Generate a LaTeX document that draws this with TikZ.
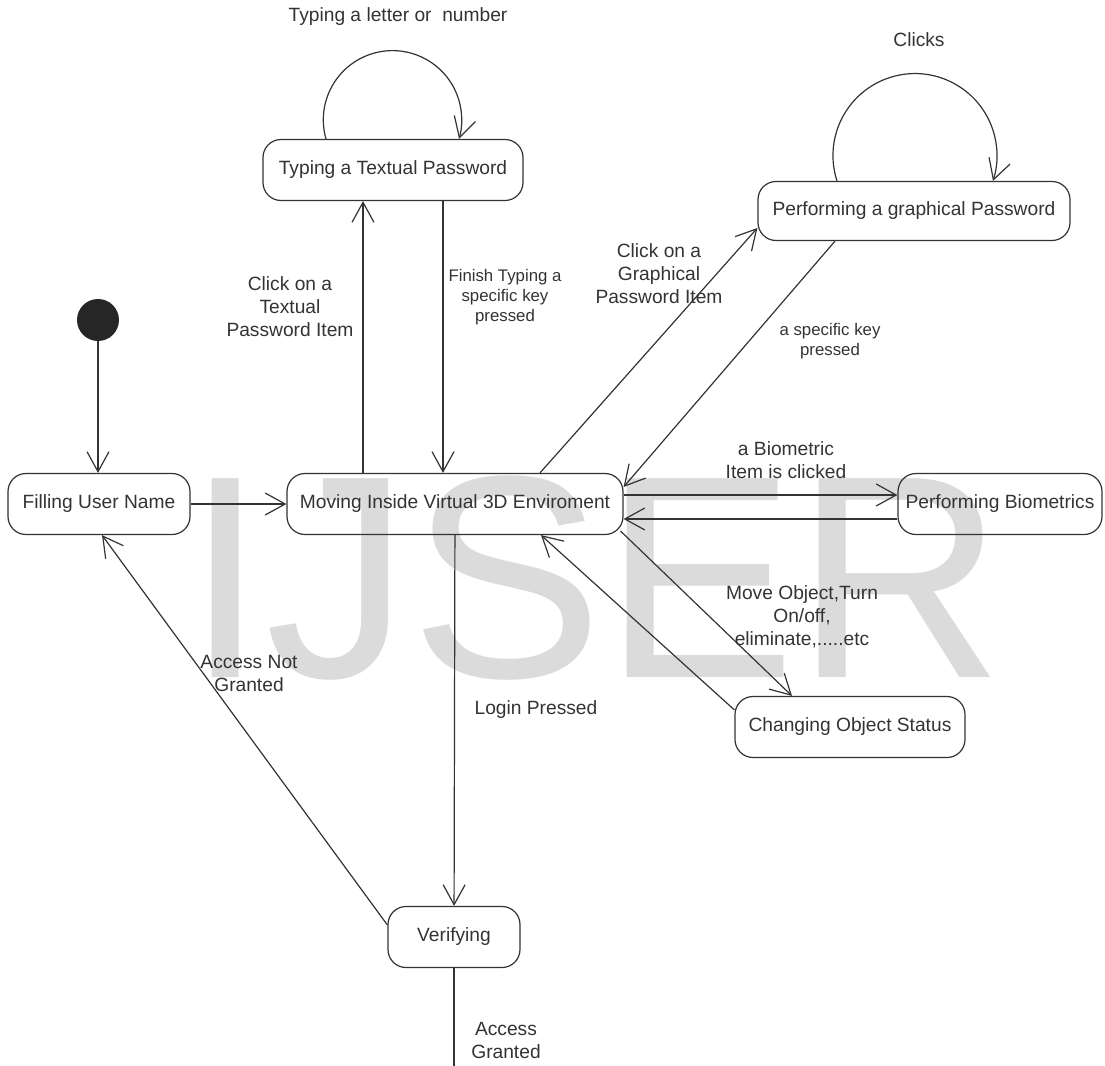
\documentclass[tikz,border=0pt]{standalone}
\usepackage{fontspec}
\setmainfont{Liberation Sans}
\usetikzlibrary{arrows.meta}
\newcommand{\mainsize}{\fontsize{9.6pt}{11.5pt}\selectfont}
\newcommand{\labsize}{\fontsize{8.4pt}{10pt}\selectfont}

\begin{document}
\begin{tikzpicture}[x=0.5pt, y=-0.5pt,
    state/.style={rectangle, rounded corners=9pt, draw=black!80, line width=0.6pt, minimum height=30.5pt, inner sep=2pt, text=black!80, font=\mainsize},
    trans/.style={-{Straight Barb[length=10pt,width=11pt]}, draw=black!80, line width=0.6pt},
    lbl/.style={align=center, text=black!80, font=\mainsize, inner sep=0pt},
    slbl/.style={lbl, font=\labsize}
]
\useasboundingbox (0,0) rectangle (1105,1066);
% watermark
\node[anchor=base west, inner sep=0pt, text=black!14, font=\fontsize{144.5pt}{150pt}\selectfont] (wm) at (185,677) {IJSER};

\node[circle, fill=black!85, minimum size=21pt, inner sep=0pt] (init) at (98,320) {};
\node[state, minimum width=91pt] (fil) at (99,504) {Filling User Name};
\node[state, minimum width=168pt] (mov) at (455,504) {Moving Inside Virtual 3D Enviroment};
\node[state, minimum width=130pt] (ttp) at (393,170) {Typing a Textual Password};
\node[state, minimum width=156pt, minimum height=29.5pt] (gpw) at (914,211) {Performing a graphical Password};
\node[state, minimum width=102pt] (bio) at (1000,504) {Performing Biometrics};
\node[state, minimum width=115pt] (cos) at (850,727) {Changing Object Status};
\node[state, minimum width=66pt] (ver) at (454,937) {Verifying};
\coordinate (out) at (454,1066);

\draw[trans] (init) -- (init |- fil.north);
\draw[trans] (fil) -- (mov);
\draw[trans] ([xshift=-15pt]ttp.south |- mov.north) -- ([xshift=-15pt]ttp.south);
\draw[trans] ([xshift=25pt]ttp.south) -- ([xshift=25pt]ttp.south |- mov.north);
\draw[trans] ([xshift=42.5pt]mov.north) -- ([yshift=-8.5pt]gpw.west);
\draw[trans] ([xshift=-39.5pt]gpw.south) -- ([yshift=8.5pt]mov.east);
\draw[trans] ([yshift=4.5pt]mov.east) -- ([yshift=4.5pt]mov.east -| bio.west);
\draw[trans] ([yshift=-7.5pt]mov.east -| bio.west) -- ([yshift=-7.5pt]mov.east);
\draw[trans] ([shift={(-1.5pt,2pt)}]mov.south east) -- ([xshift=-29pt]cos.north);
\draw[trans] ([yshift=-7pt]cos.north west) -- ([xshift=43pt]mov.south);
\draw[trans] (mov) -- (ver);
\draw[trans] ([yshift=6pt]ver.west) -- ([xshift=1.5pt]fil.south);
\draw[draw=black!80, line width=0.6pt] (ver) -- (out);

% self loops
\draw[trans] ([xshift=-33.5pt]ttp.north) arc[start angle=196, end angle=-16, radius=34.6pt];
\draw[trans] ([xshift=-38.5pt]gpw.north) arc[start angle=198, end angle=-18, radius=41pt];

\node[lbl] (l1) at (398,17) {Typing a letter or~ number};
\node[lbl] (l2) at (919,40) {Clicks};
\node[lbl] (l3) at (290,307) {Click on a\\Textual\\Password Item};
\node[slbl] (l4) at (505,297) {Finish Typing a\\specific key\\pressed};
\node[lbl] (l5) at (659,274) {Click on a\\Graphical\\Password Item};
\node[slbl] (l6) at (830,341) {a specific key\\pressed};
\node[lbl] (l7) at (786,460) {a Biometric\\Item is clicked};
\node[lbl] (l8) at (802,617) {Move Object,Turn\\On/off,\\eliminate,.....etc};
\node[lbl] (l9) at (536,710) {Login Pressed};
\node[lbl] (l10) at (249,673) {Access Not\\Granted};
\node[lbl] (l11) at (506,1040) {Access\\Granted};
\end{tikzpicture}
\end{document}
